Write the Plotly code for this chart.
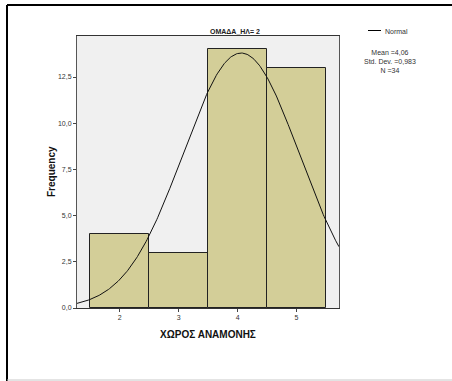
import numpy as np
import plotly.graph_objects as go

# Histogram of ΧΩΡΟΣ ΑΝΑΜΟΝΗΣ for group ΟΜΑΔΑ_ΗΛ = 2
categories = [2, 3, 4, 5]
frequencies = [4, 3, 14, 13]
mean_val = 4.06
std_val = 0.983
n_val = 34
y_ticks = [0.0, 2.5, 5.0, 7.5, 10.0, 12.5]

W, H = 452, 381
L, R, T, B = 77, 339, 36, 308  # plot area in pixels

x_range = [1.276, 5.72]
y_range = [0, 14.72]

# fitted normal curve scaled to counts (bin width 1)
xs = np.linspace(x_range[0], x_range[1], 300)
ys = n_val * 1.0 / (std_val * np.sqrt(2 * np.pi)) * np.exp(-0.5 * ((xs - mean_val) / std_val) ** 2)

fig = go.Figure()
fig.add_trace(go.Bar(
    x=categories, y=frequencies, width=1,
    marker=dict(color="#d3ce98", line=dict(color="#222222", width=1)),
    showlegend=False, hoverinfo="skip",
))
fig.add_trace(go.Scatter(
    x=xs, y=ys, mode="lines", line=dict(color="#111111", width=1),
    showlegend=False, cliponaxis=True,
))


def px(xp):
    return (xp - L) / (R - L)


def py(yp):
    return (B - yp) / (B - T)


shapes = [
    # outer frame
    dict(type="line", xref="paper", yref="paper", x0=px(7), x1=px(452), y0=py(5), y1=py(5),
         line=dict(color="#000000", width=2)),
    dict(type="line", xref="paper", yref="paper", x0=px(7), x1=px(7), y0=py(5), y1=py(381),
         line=dict(color="#000000", width=2)),
    dict(type="line", xref="paper", yref="paper", x0=px(7), x1=px(452), y0=py(380), y1=py(380),
         line=dict(color="#c8c8c8", width=1)),
    # legend line
    dict(type="line", xref="paper", yref="paper", x0=px(368), x1=px(381), y0=py(30.5), y1=py(30.5),
         line=dict(color="#000000", width=1)),
]

fs = "Liberation Sans, Arial, sans-serif"
annotations = [
    dict(text="<b>ΟΜΑΔΑ_ΗΛ= 2</b>", xref="paper", yref="paper", x=px(235), y=py(31),
         showarrow=False, font=dict(size=7, color="#222222", family=fs), xanchor="center", yanchor="middle"),
    dict(text="Normal", xref="paper", yref="paper", x=px(383), y=py(31),
         showarrow=False, font=dict(size=7, color="#333333", family=fs), xanchor="left", yanchor="middle"),
    dict(text=f"Mean ={mean_val:.2f}".replace(".", ",") + "<br>" +
              "Std. Dev. =" + f"{std_val:.3f}".replace(".", ",") + "<br>" +
              f"N ={n_val}",
         xref="paper", yref="paper", x=px(390), y=py(61),
         showarrow=False, align="center", font=dict(size=7, color="#333333", family=fs),
         xanchor="center", yanchor="middle"),
    dict(text="<b>Frequency</b>", xref="paper", yref="paper", x=px(51), y=py(172),
         showarrow=False, textangle=-90, font=dict(size=10, color="#111111", family=fs),
         xanchor="center", yanchor="middle"),
]

fig.update_layout(
    width=W, height=H,
    margin=dict(l=L, r=W - R, t=T, b=H - B, pad=0),
    paper_bgcolor="white", plot_bgcolor="#f0f0f0",
    separators=",.",
    bargap=0,
    shapes=shapes,
    annotations=annotations,
    xaxis=dict(
        range=x_range, tickvals=categories, ticktext=[str(c) for c in categories],
        ticks="outside", ticklen=3, tickcolor="#444444",
        tickfont=dict(size=7, color="#333333", family=fs),
        showgrid=False, zeroline=False,
        showline=True, linecolor="#333333", linewidth=1, mirror=True,
        title=dict(text="<b>ΧΩΡΟΣ ΑΝΑΜΟΝΗΣ</b>", font=dict(size=10, color="#111111", family=fs), standoff=10),
        fixedrange=True,
    ),
    yaxis=dict(
        range=y_range, tickvals=y_ticks, tickformat=".1f",
        ticks="outside", ticklen=3, tickcolor="#444444",
        tickfont=dict(size=7, color="#333333", family=fs),
        showgrid=False, zeroline=False,
        showline=True, linecolor="#555555", linewidth=1, mirror=True,
        fixedrange=True,
    ),
)

fig.write_html("out.html")
